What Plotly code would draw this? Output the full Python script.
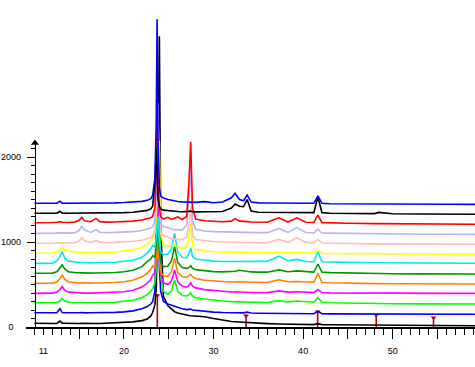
import plotly.graph_objects as go

# 2-theta sample positions (degrees)
two_theta = [10.0, 11.0, 12.0, 12.5, 12.85, 13.1, 13.4, 13.8, 14.5, 15.0, 15.27, 15.6, 16.3, 16.87, 17.3,
             18.0, 19.0, 20.0, 21.0, 22.0, 22.6, 23.0, 23.2, 23.45, 23.6, 23.7, 23.8, 23.95, 24.1, 24.4,
             24.9, 25.3, 25.65, 26.0, 26.5, 27.0, 27.25, 27.45, 27.65, 28.0, 29.0, 30.0, 31.0, 32.0, 32.4,
             32.9, 33.35, 33.75, 34.2, 35.0, 36.0, 37.3, 38.3, 39.3, 40.3, 41.2, 41.65, 42.1, 43.0, 45.0,
             48.0, 48.4, 50.0, 53.0, 56.0, 59.5]

# stacked patterns (counts, bottom to top)
black_1 = [44, 44, 42, 42, 70, 45, 44, 42, 42, 42, 44, 42, 42, 42, 42,
           44, 48, 52, 60, 75, 95, 130, 170, 260, 450, 900, 1900, 3420, 1200, 360,
           250, 210, 180, 165, 150, 140, 135, 132, 130, 128, 120, 100, 80, 65, 62,
           58, 55, 60, 52, 45, 40, 35, 32, 30, 28, 28, 40, 28, 26, 24,
           22, 22, 20, 18, 16, 15]
blue_1 = [168, 165, 168, 168, 215, 170, 168, 166, 166, 168, 170, 166, 168, 168, 168,
          170, 172, 178, 190, 215, 240, 270, 300, 420, 1200, 2900, 1700, 700, 420, 300,
          270, 255, 245, 230, 215, 205, 205, 210, 200, 195, 185, 175, 170, 168, 172,
          165, 166, 175, 164, 162, 160, 160, 158, 158, 156, 156, 185, 156, 154, 153,
          152, 152, 150, 150, 148, 149]
green_1 = [286, 284, 286, 290, 305, 335, 305, 292, 288, 286, 288, 286, 286, 288, 286,
           288, 292, 300, 315, 345, 380, 420, 450, 520, 650, 800, 1000, 1160, 600, 420,
           385, 420, 553, 420, 370, 365, 380, 400, 365, 345, 330, 315, 305, 298, 300,
           296, 294, 292, 290, 288, 288, 310, 295, 305, 296, 292, 345, 292, 285, 280,
           276, 276, 274, 272, 270, 270]
magenta_1 = [396, 394, 398, 410, 440, 474, 430, 410, 402, 400, 402, 398, 398, 400, 398,
             402, 406, 415, 432, 470, 515, 560, 610, 640, 800, 1100, 1660, 900, 620, 520,
             500, 540, 670, 530, 480, 470, 490, 520, 480, 460, 440, 428, 418, 412, 414,
             410, 408, 408, 406, 404, 404, 425, 410, 415, 408, 405, 440, 405, 402, 400,
             398, 398, 398, 396, 396, 396]
orange_1 = [514, 512, 516, 530, 570, 612, 560, 530, 520, 518, 520, 516, 516, 518, 516,
            520, 524, 532, 550, 590, 632, 680, 720, 700, 820, 1100, 900, 760, 650, 600,
            595, 650, 811, 640, 590, 585, 600, 620, 590, 570, 550, 540, 535, 530, 534,
            532, 530, 528, 526, 524, 524, 556, 532, 536, 528, 526, 632, 524, 520, 514,
            510, 510, 508, 508, 506, 506]
darkgreen_1 = [632, 630, 634, 650, 690, 730, 680, 650, 640, 636, 638, 634, 634, 636, 634,
               638, 642, 650, 668, 710, 768, 800, 840, 820, 960, 1250, 1050, 880, 760, 710,
               715, 780, 944, 760, 700, 690, 700, 720, 690, 675, 660, 652, 648, 650, 655,
               668, 660, 652, 648, 645, 645, 672, 650, 660, 648, 645, 741, 645, 640, 634,
               628, 628, 626, 625, 624, 623]
cyan_1 = [749, 748, 752, 775, 830, 886, 810, 775, 762, 758, 758, 754, 754, 756, 754,
          758, 762, 770, 785, 820, 870, 920, 960, 940, 1050, 1200, 1300, 1000, 880, 850,
          860, 920, 1105, 880, 820, 815, 860, 929, 830, 800, 785, 775, 770, 770, 772,
          768, 768, 770, 766, 766, 772, 835, 780, 795, 770, 768, 885, 768, 764, 760,
          756, 756, 754, 752, 750, 749]
yellow_1 = [867, 866, 870, 885, 905, 935, 912, 895, 882, 878, 878, 874, 874, 876, 874,
            878, 882, 890, 905, 935, 975, 1010, 1040, 1100, 1300, 1600, 1900, 2190, 1100, 965,
            950, 955, 965, 940, 925, 940, 1050, 1223, 960, 910, 895, 886, 882, 880, 880,
            878, 876, 878, 874, 872, 872, 880, 872, 876, 868, 866, 905, 866, 864, 862,
            860, 860, 858, 857, 856, 855]
pink_1 = [985, 984, 988, 988, 992, 990, 988, 988, 992, 1010, 1050, 1015, 995, 1018, 998,
          992, 995, 1000, 1008, 1020, 1035, 1050, 1070, 1150, 1400, 2000, 2635, 1600, 1120, 1070,
          1062, 1040, 1035, 1030, 1025, 1060, 1200, 1415, 1080, 1030, 1015, 1005, 1000, 1000, 998,
          996, 995, 996, 993, 990, 992, 1030, 995, 1050, 995, 990, 1030, 988, 985, 982,
          978, 978, 976, 975, 974, 973]
lavender_1 = [1102, 1100, 1104, 1104, 1110, 1106, 1104, 1104, 1110, 1135, 1185, 1140, 1112, 1145, 1115,
              1108, 1110, 1115, 1122, 1135, 1150, 1165, 1180, 1260, 1600, 2280, 1900, 1400, 1220, 1180,
              1170, 1150, 1145, 1140, 1140, 1200, 1500, 1900, 1250, 1150, 1130, 1122, 1118, 1118, 1118,
              1115, 1114, 1115, 1112, 1110, 1110, 1160, 1112, 1170, 1112, 1108, 1150, 1106, 1104, 1100,
              1096, 1096, 1094, 1092, 1091, 1090]
red_1 = [1227, 1225, 1230, 1232, 1238, 1232, 1230, 1230, 1234, 1255, 1290, 1250, 1238, 1277, 1240,
         1234, 1236, 1240, 1246, 1258, 1270, 1285, 1300, 1400, 1800, 2400, 1700, 1400, 1300, 1270,
         1290, 1265, 1280, 1295, 1265, 1300, 1700, 2180, 1400, 1270, 1250, 1242, 1238, 1245, 1275,
         1245, 1238, 1240, 1235, 1232, 1232, 1285, 1235, 1285, 1232, 1230, 1317, 1228, 1224, 1220,
         1216, 1216, 1214, 1212, 1210, 1208]
black_2 = [1338, 1336, 1338, 1338, 1362, 1340, 1338, 1338, 1338, 1338, 1340, 1338, 1338, 1340, 1338,
           1340, 1342, 1345, 1350, 1360, 1372, 1390, 1420, 1700, 2100, 1800, 1500, 1420, 1390, 1375,
           1368, 1362, 1360, 1358, 1356, 1356, 1360, 1365, 1356, 1354, 1354, 1352, 1358, 1400, 1447,
           1420, 1415, 1500, 1365, 1350, 1348, 1346, 1344, 1344, 1342, 1345, 1532, 1345, 1338, 1335,
           1334, 1348, 1332, 1330, 1328, 1326]
blue_2 = [1455, 1453, 1456, 1456, 1480, 1457, 1455, 1455, 1456, 1456, 1458, 1456, 1456, 1458, 1456,
          1458, 1460, 1464, 1470, 1478, 1490, 1510, 1550, 1750, 2400, 3620, 2200, 1650, 1540, 1517,
          1500, 1490, 1480, 1476, 1472, 1470, 1470, 1472, 1468, 1466, 1475, 1462, 1470, 1520, 1573,
          1500, 1485, 1553, 1470, 1460, 1458, 1456, 1455, 1455, 1453, 1455, 1541, 1455, 1450, 1448,
          1446, 1446, 1446, 1445, 1444, 1443]

series = [black_1, blue_1, green_1, magenta_1, orange_1, darkgreen_1, cyan_1,
          yellow_1, pink_1, lavender_1, red_1, black_2, blue_2]
colors = ["#000000", "#0000ff", "#00ff00", "#ff00ff", "#ff8000", "#009900", "#00e8f0",
          "#ffff00", "#ffbcbc", "#b4b4ff", "#ff0000", "#000000", "#0000ff"]

# reference stick pattern
ref_pos = [23.72, 33.63, 41.62, 48.16, 54.56]
ref_int = [370, 133, 180, 141, 110]

x_ticks = [15, 20, 25, 30, 35, 40, 45, 50, 55]
x_ticktext = ["", "20", "", "30", "", "40", "", "50", ""]
y_ticks = [0, 1000, 2000]
y_ticktext = ["0   ", "1000", "2000"]

Y_MAX = 3847
Y_AXIS_TOP = 2165
X_RANGE = [9.06, 59.19]

fig = go.Figure()

sx, sy = [], []
for p, h in zip(ref_pos, ref_int):
    sx += [p, p, None]
    sy += [0, h, None]
fig.add_trace(go.Scatter(x=sx, y=sy, mode="lines", line=dict(color="#b00000", width=1.6),
                         showlegend=False, hoverinfo="skip"))
fig.add_trace(go.Scatter(x=ref_pos, y=ref_int, mode="markers",
                         marker=dict(symbol="triangle-down", size=5, color="#b00000"),
                         showlegend=False, hoverinfo="skip"))

for ys, c in zip(series, colors):
    fig.add_trace(go.Scatter(x=two_theta, y=ys, mode="lines",
                             line=dict(color=c, width=1.6), showlegend=False,
                             hoverinfo="skip"))

# y-axis arrow head (drawn on the display axis)
fig.add_trace(go.Scatter(x=[10.06], y=[Y_AXIS_TOP], xaxis="x2", yaxis="y2", mode="markers",
                         marker=dict(symbol="triangle-up", size=7, color="black"),
                         cliponaxis=False, showlegend=False, hoverinfo="skip"))

font = dict(family="Liberation Sans, Arial, sans-serif", size=9, color="black")
frac = (35 - 26) / 449.0
ydom = Y_AXIS_TOP / Y_MAX

fig.update_layout(
    width=475, height=367, autosize=False,
    margin=dict(l=26, r=0, t=0, b=40, pad=0),
    paper_bgcolor="white", plot_bgcolor="rgba(0,0,0,0)",
    font=font,
    xaxis=dict(range=X_RANGE, showgrid=False, zeroline=False, automargin=False,
               showline=True, linecolor="black", linewidth=2,
               tickmode="array", tickvals=x_ticks, ticktext=x_ticktext,
               ticks="outside", ticklen=10, tickwidth=1, tickcolor="black",
               ticklabelstandoff=4,
               minor=dict(dtick=1, ticks="outside", ticklen=6, tickwidth=1, tickcolor="black",
                          showgrid=False),
               tickfont=font),
    xaxis2=dict(range=X_RANGE, overlaying="x", anchor="y", side="bottom", automargin=False,
                showgrid=False, zeroline=False, showline=False,
                tickmode="array", tickvals=[11], ticktext=["11"], ticks="",
                ticklabelstandoff=17, tickfont=font),
    yaxis=dict(range=[0, Y_MAX], visible=False, showgrid=False, zeroline=False, automargin=False),
    yaxis2=dict(range=[0, Y_AXIS_TOP], domain=[0, ydom], anchor="free", position=frac,
                automargin=False,
                showgrid=False, zeroline=False, showline=True, linecolor="black", linewidth=1.2,
                tickmode="array", tickvals=y_ticks, ticktext=y_ticktext,
                ticks="outside", ticklen=8, tickwidth=1, tickcolor="black",
                ticklabelstandoff=4,
                minor=dict(dtick=100, ticks="outside", ticklen=4, tickwidth=1, tickcolor="black",
                           showgrid=False),
                tickfont=font),
)

fig.write_html("out.html", config={"displayModeBar": False},
               post_script="document.body.style.margin='0';document.body.style.overflow='hidden';")
